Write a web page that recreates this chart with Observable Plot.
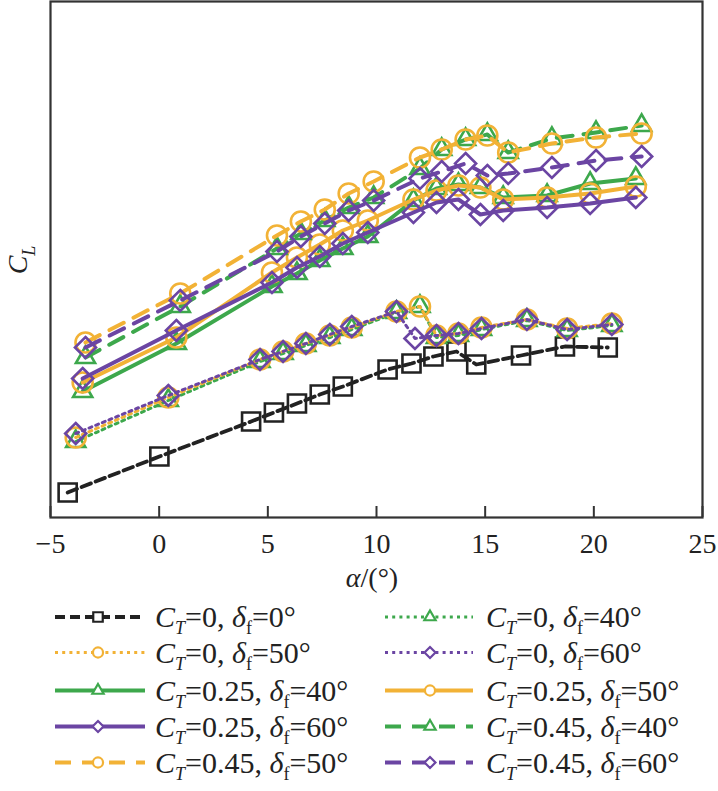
<!DOCTYPE html>
<html><head><meta charset="utf-8">
<script src="https://cdn.jsdelivr.net/npm/d3@7"></script>
<script src="https://cdn.jsdelivr.net/npm/@observablehq/plot@0.6"></script>
<style>
html,body{margin:0;padding:0;background:#fff;font-family:"Liberation Serif",serif;}
#chart svg,#legend svg{display:block;}
</style>
</head><body><div id="chart"></div><div id="legend"></div>
<script>
// ---------- data ----------
const xTicks = [-5, 0, 5, 10, 15, 20, 25];

const alpha_CT0_d0 = [-4.21, 0.01, 4.23, 5.28, 6.34, 7.39, 8.45, 10.51, 11.61, 12.62, 13.68, 14.59, 16.65, 18.67, 20.64];
const CL_CT0_d0    = [0.25, 0.61, 0.96, 1.05, 1.14, 1.23, 1.31, 1.48, 1.54, 1.61, 1.66, 1.53, 1.62, 1.71, 1.70];

const alpha_CT0     = [-3.84, 0.42, 4.64, 5.70, 6.75, 7.85, 8.86, 10.92, 12.00, 12.76, 13.77, 14.83, 16.92, 18.77, 20.83];
const alpha_CT0_d60 = [-3.84, 0.42, 4.64, 5.70, 6.75, 7.85, 8.86, 10.92, 11.77, 12.76, 13.77, 14.83, 16.92, 18.77, 20.83];
const CL_CT0_d40 = [0.76, 1.17, 1.56, 1.64, 1.72, 1.80, 1.88, 2.05, 2.11, 1.80, 1.82, 1.88, 1.97, 1.87, 1.92];
const CL_CT0_d50 = [0.80, 1.20, 1.58, 1.66, 1.74, 1.82, 1.90, 2.06, 2.11, 1.82, 1.84, 1.90, 1.98, 1.89, 1.94];
const CL_CT0_d60 = [0.84, 1.22, 1.58, 1.66, 1.74, 1.83, 1.91, 2.06, 1.79, 1.82, 1.84, 1.89, 1.98, 1.88, 1.93];

const alpha_CT025 = [-3.52, 0.79, 5.19, 6.34, 7.39, 8.45, 9.60, 11.70, 12.76, 13.77, 14.78, 15.83, 17.85, 19.83, 21.93];
const CL_CT025_d40 = [1.26, 1.74, 2.31, 2.44, 2.57, 2.69, 2.81, 3.17, 3.29, 3.33, 3.30, 3.20, 3.22, 3.34, 3.39];
const CL_CT025_d50 = [1.35, 1.80, 2.45, 2.60, 2.73, 2.87, 2.97, 3.18, 3.27, 3.32, 3.30, 3.18, 3.20, 3.24, 3.31];
const CL_CT025_d60 = [1.39, 1.87, 2.35, 2.50, 2.61, 2.74, 2.85, 3.05, 3.15, 3.18, 3.03, 3.07, 3.10, 3.14, 3.20];

const alpha_CT045 = [-3.39, 0.97, 5.42, 6.52, 7.62, 8.72, 9.87, 12.00, 13.00, 14.10, 15.10, 16.06, 18.07, 20.10, 22.20];
const CL_CT045_d40 = [1.60, 2.11, 2.69, 2.84, 2.97, 3.10, 3.20, 3.49, 3.68, 3.78, 3.83, 3.65, 3.79, 3.85, 3.92];
const CL_CT045_d50 = [1.75, 2.24, 2.82, 2.96, 3.08, 3.24, 3.36, 3.60, 3.68, 3.78, 3.82, 3.65, 3.74, 3.80, 3.84];
const CL_CT045_d60 = [1.70, 2.17, 2.66, 2.81, 2.94, 3.07, 3.17, 3.39, 3.46, 3.54, 3.42, 3.44, 3.50, 3.57, 3.61];

// series labels (C_T, delta_f), in legend order (row-major, two columns)
const seriesCT = ["0", "0", "0", "0", "0.25", "0.25", "0.25", "0.45", "0.45", "0.45"];
const seriesDf = ["0", "40", "50", "60", "40", "50", "60", "40", "50", "60"];
const seriesAlpha = [alpha_CT0_d0, alpha_CT0, alpha_CT0, alpha_CT0_d60, alpha_CT025, alpha_CT025, alpha_CT025, alpha_CT045, alpha_CT045, alpha_CT045];
const seriesCL = [CL_CT0_d0, CL_CT0_d40, CL_CT0_d50, CL_CT0_d60, CL_CT025_d40, CL_CT025_d50, CL_CT025_d60, CL_CT045_d40, CL_CT045_d50, CL_CT045_d60];

// ---------- styles ----------
const BLACK = "#222222", ORANGE = "#F2B236", GREEN = "#3DA84C", PURPLE = "#6B45A3";
const colorByDf = {"0": BLACK, "40": GREEN, "50": ORANGE, "60": PURPLE};
const diamondSym = {draw(ctx, size) { const h = Math.sqrt(size / 2); ctx.moveTo(0, -h); ctx.lineTo(h, 0); ctx.lineTo(0, h); ctx.lineTo(-h, 0); ctx.closePath(); }};
const symByDf = {"0": d3.symbolSquare, "40": d3.symbolTriangle, "50": d3.symbolCircle, "60": diamondSym};
const rByDf = {"0": 10.2, "40": 7.1, "50": 10, "60": 8.4};
const dashByCT = (ct, df) => ct === "0" ? (df === "0" ? "10,5" : "3,4.2") : ct === "0.25" ? null : "16,11";
const widthByCT = (ct, df) => ct === "0" ? (df === "0" ? 3.8 : 3) : 4;

const W = 718, H = 600;
const mL = 50, mR = 16, mT = 1, mB = 83;
const innerH = H - mT - mB;

const marks = [];
seriesCT.forEach((ct, i) => {
  const df = seriesDf[i];
  const rows = seriesAlpha[i].map((a, j) => ({alpha: a, CL: seriesCL[i][j]}));
  const color = colorByDf[df];
  marks.push(Plot.line(rows, {x: "alpha", y: "CL", stroke: color, strokeWidth: widthByCT(ct, df), strokeDasharray: dashByCT(ct, df)}));
  marks.push(Plot.dot(rows, {x: "alpha", y: "CL", symbol: symByDf[df], r: rByDf[df], stroke: color, fill: "none", strokeWidth: 2.6}));
});

const serif = "Liberation Serif";
const plot = Plot.plot({
  width: W, height: H,
  marginLeft: mL, marginRight: mR, marginTop: mT, marginBottom: mB,
  style: {fontFamily: serif, fontSize: "28px", background: "#fff", color: "#222", overflow: "visible"},
  x: {domain: [-5, 25]},
  y: {domain: [0, 5.16], axis: null},
  marks: [
    ...marks,
    Plot.tickX(xTicks, {x: d => d, insetTop: innerH - 11, stroke: "#333", strokeWidth: 2}),
    Plot.frame({stroke: "#333", strokeWidth: 2.2}),
    Plot.axisX(xTicks, {tickSize: 0, tickPadding: 16, label: null, fontSize: 28, fill: "#222",
      tickFormat: d => d < 0 ? "\u2212" + Math.abs(d) : String(d)})
  ]
});
document.getElementById("chart").appendChild(plot);

const svg = d3.select(plot);
// x label
const xl = svg.append("text").attr("x", 372).attr("y", 587).attr("text-anchor", "middle")
  .attr("font-family", serif).attr("font-size", 28).attr("fill", "#222");
xl.append("tspan").attr("font-style", "italic").text("\u03B1");
xl.append("tspan").text("/(\u00B0)");
// y label
const yl = svg.append("text").attr("transform", "translate(27,260) rotate(-90)").attr("text-anchor", "middle")
  .attr("font-family", serif).attr("font-size", 28).attr("fill", "#222");
yl.append("tspan").attr("font-style", "italic").text("C");
yl.append("tspan").attr("font-style", "italic").attr("font-size", 18).attr("dy", 8).text("L");

// ---------- legend ----------
const LH = 791 - H;
const leg = d3.select("#legend").append("svg").attr("width", W).attr("height", LH)
  .attr("font-family", serif).attr("font-size", 30).attr("fill", "#222");
const rowY = [17, 52.5, 90.5, 126.5, 162.5];
const cols = [{x0: 55, x1: 145, xm: 98, xt: 155}, {x0: 385, x1: 473, xm: 430, xt: 486}];
const legSize = {"0": 90, "40": 55, "50": 80, "60": 60};
seriesCT.forEach((ct, i) => {
  const df = seriesDf[i];
  const c = cols[i % 2], y = rowY[Math.floor(i / 2)];
  const color = colorByDf[df];
  const g = leg.append("g");
  g.append("line").attr("x1", c.x0).attr("x2", c.x1).attr("y1", y).attr("y2", y)
    .attr("stroke", color).attr("stroke-width", widthByCT(ct, df))
    .attr("stroke-dasharray", dashByCT(ct, df));
  g.append("path").attr("d", d3.symbol().type(symByDf[df]).size(legSize[df])())
    .attr("transform", `translate(${c.xm},${y})`).attr("fill", "#fff").attr("stroke", color).attr("stroke-width", 2.2);
  const t = g.append("text").attr("x", c.xt).attr("y", y + 10);
  t.append("tspan").attr("font-style", "italic").text("C");
  t.append("tspan").attr("font-style", "italic").attr("font-size", 18).attr("dy", 7).text("T");
  t.append("tspan").attr("dy", -7).text("=" + ct + ", ");
  t.append("tspan").attr("font-style", "italic").text("\u03B4");
  t.append("tspan").attr("font-size", 18).attr("dy", 7).text("f");
  t.append("tspan").attr("dy", -7).text("=" + df + "\u00B0");
});
</script>
</body></html>
